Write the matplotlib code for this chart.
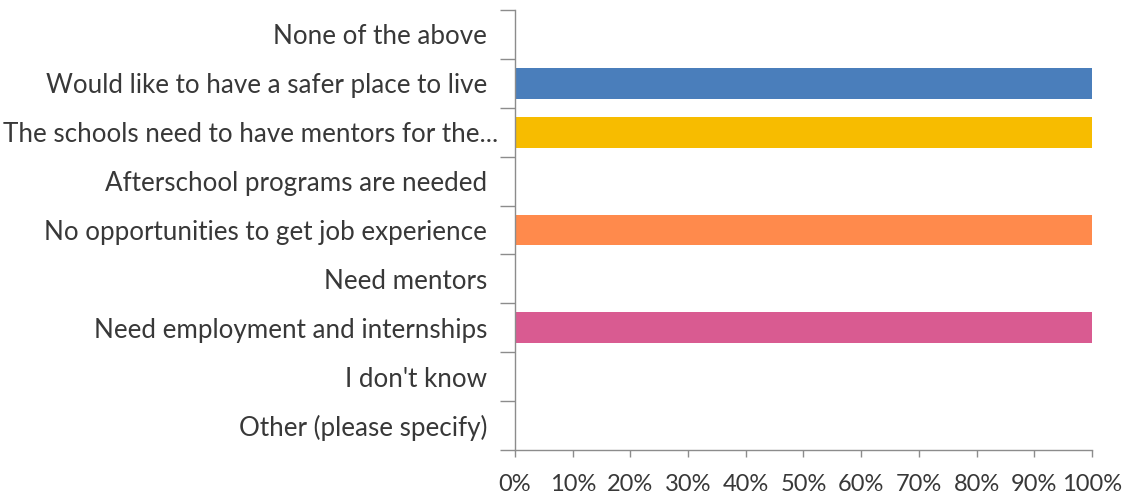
import matplotlib
matplotlib.use("Agg")
import matplotlib.pyplot as plt
import matplotlib.transforms as mtransforms
from matplotlib.ticker import PercentFormatter

categories = [
    "None of the above",
    "Would like to have a safer place to live",
    "The schools need to have mentors for the...",
    "Afterschool programs are needed",
    "No opportunities to get job experience",
    "Need mentors",
    "Need employment and internships",
    "I don't know",
    "Other (please specify)",
]
values = [0, 100, 100, 0, 100, 0, 100, 0, 0]
colors = ["#4A7EBB", "#4A7EBB", "#F7BC00", "#F7BC00", "#FF8A4C", "#FF8A4C",
          "#D95B91", "#D95B91", "#D95B91"]
xticks = [0, 10, 20, 30, 40, 50, 60, 70, 80, 90, 100]

plt.rcParams['font.family'] = ['Lato', 'DejaVu Sans']

fig = plt.figure(figsize=(11.28, 5.01), dpi=100)
ax = fig.add_axes([0.4566, 0.1018, 0.968 - 0.4566, 0.98 - 0.1018])

n = len(categories)
ypos = list(range(n))[::-1]
ax.barh(ypos, values, height=0.63, color=colors, zorder=2)

ax.set_xlim(0, 100)
ax.set_ylim(-0.5, n - 0.5)
ax.set_xticks(xticks)
ax.xaxis.set_major_formatter(PercentFormatter(decimals=0))
ax.set_yticks(ypos)
ax.set_yticklabels(categories)
ax.set_yticks([i - 0.5 for i in range(n + 1)], minor=True)

for s in ["top", "right"]:
    ax.spines[s].set_visible(False)
for s in ["left", "bottom"]:
    ax.spines[s].set_color("#8C8C8C")
    ax.spines[s].set_linewidth(1.0)

ax.tick_params(axis='y', which='major', length=0, pad=20, labelsize=18.7, labelcolor="#383838")
ax.tick_params(axis='y', which='minor', length=11, color="#8C8C8C", width=1.0)
ax.tick_params(axis='x', which='major', length=5, color="#8C8C8C", width=1.0,
               pad=12, labelsize=17, labelcolor="#383838")

# truncated label sits closer to the axis
lbl = ax.get_yticklabels()[2]
lbl.set_transform(lbl.get_transform() + mtransforms.ScaledTranslation(0.11, 0, fig.dpi_scale_trans))

fig.savefig("out.png", dpi=100, facecolor="white")
